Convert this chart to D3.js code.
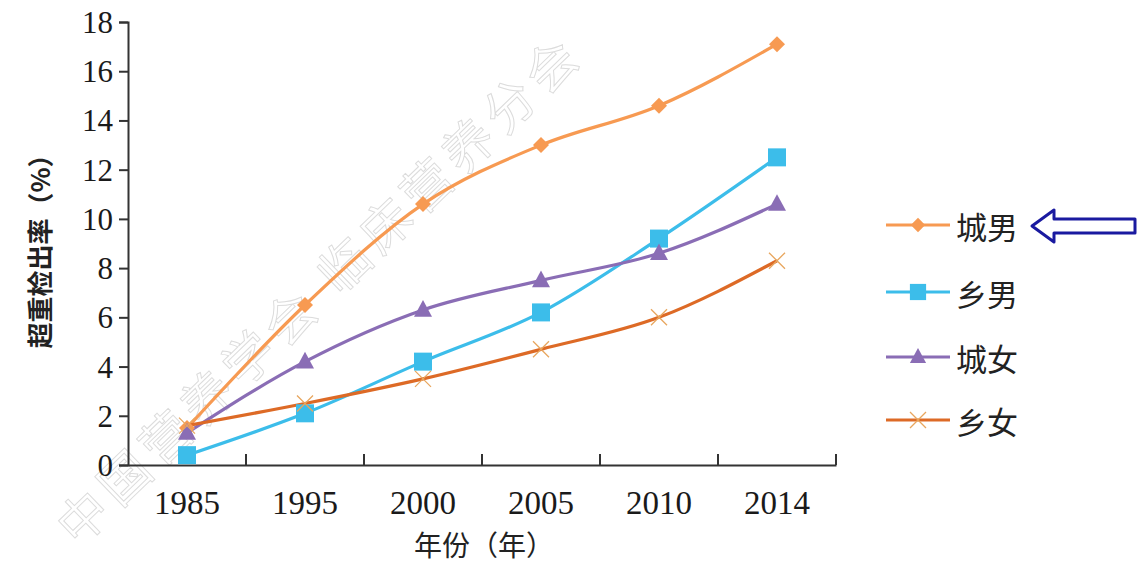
<!DOCTYPE html>
<html><head><meta charset="utf-8">
<script src="https://cdn.jsdelivr.net/npm/d3@7"></script>
<style>body{margin:0;background:#fff}svg{display:block}</style>
</head><body>
<svg id="c" width="1138" height="563"></svg>
<script>
const years = ["1985","1995","2000","2005","2010","2014"];
const cityMale = [1.5, 6.5, 10.6, 13.0, 14.6, 17.1];
const ruralMale = [0.4, 2.1, 4.2, 6.2, 9.2, 12.5];
const cityFemale = [1.3, 4.2, 6.3, 7.5, 8.6, 10.6];
const ruralFemale = [1.6, 2.5, 3.5, 4.7, 6.0, 8.3];
const seriesNames = ["城男","乡男","城女","乡女"];
const yTicks = [0,2,4,6,8,10,12,14,16,18];
const yTitle = "超重检出率（%）";
const xTitle = "年份（年）";
const watermark = "中国营养学会  临床营养分会";

const series = [
  {name: seriesNames[0], values: cityMale, color: "#F79A52", marker: "diamond"},
  {name: seriesNames[1], values: ruralMale, color: "#3CBDEA", marker: "square"},
  {name: seriesNames[2], values: cityFemale, color: "#8A6DB5", marker: "triangle"},
  {name: seriesNames[3], values: ruralFemale, color: "#DD6A26", marker: "cross"}
];

const svg = d3.select("#c");
const serif = "'Liberation Serif','DejaVu Serif',serif";
const cjk = "'Noto Sans CJK SC','Noto Sans CJK TC',sans-serif";

const x = d3.scaleBand().domain(years).range([128, 836]).padding(0);
const y = d3.scaleLinear().domain([0, 18]).range([465, 22]);

// watermark
svg.append("text")
  .attr("transform", "translate(78,548) rotate(-44)")
  .attr("font-family", cjk).attr("font-size", 50).attr("fill", "none")
  .attr("stroke", "#dcdcdc").attr("stroke-width", 1)
  .attr("textLength", 700).attr("lengthAdjust", "spacing")
  .text(watermark);

// y axis
const yAxis = svg.append("g").attr("transform", "translate(128,0)")
  .call(d3.axisLeft(y).tickValues(yTicks).tickSize(9).tickPadding(6).tickFormat(d3.format("d")));
yAxis.select(".domain").attr("stroke", "#333").attr("stroke-width", 2);
yAxis.selectAll(".tick line").attr("stroke", "#333").attr("stroke-width", 2);
yAxis.selectAll(".tick text").attr("font-family", serif).attr("font-size", 31).attr("fill", "#1a1a1a").attr("dy", "0.34em");

// x axis
const xAxis = svg.append("g").attr("transform", "translate(0,465)")
  .call(d3.axisBottom(x).tickSize(0).tickPadding(26));
xAxis.select(".domain").attr("stroke", "#333").attr("stroke-width", 2);
xAxis.selectAll(".tick text").attr("font-family", serif).attr("font-size", 33).attr("fill", "#1a1a1a");
// tick marks at band edges, pointing up
xAxis.selectAll(".edge").data(years.slice(1).concat(["end"])).enter().append("line")
  .attr("x1", d => d === "end" ? 836 : x(d)).attr("x2", d => d === "end" ? 836 : x(d))
  .attr("y1", 0).attr("y2", -11).attr("stroke", "#333").attr("stroke-width", 2);

// titles
svg.append("text")
  .attr("transform", "translate(38,245) rotate(-90)")
  .attr("text-anchor", "middle").attr("dominant-baseline", "central")
  .attr("font-family", cjk).attr("font-size", 26).attr("font-weight", "bold").attr("fill", "#222")
  .text(yTitle);
svg.append("text")
  .attr("x", 484).attr("y", 556).attr("text-anchor", "middle")
  .attr("font-family", cjk).attr("font-size", 28).attr("fill", "#222")
  .text(xTitle);

const cx = d => x(d) + x.bandwidth() / 2;
const line = d3.line().x((d, i) => cx(years[i])).y(d => y(d)).curve(d3.curveMonotoneX);

function drawMarker(g, type, color, px, py, s) {
  if (type === "diamond") {
    g.append("path").attr("d", `M${px},${py - s}L${px + s},${py}L${px},${py + s}L${px - s},${py}Z`).attr("fill", color);
  } else if (type === "square") {
    g.append("rect").attr("x", px - s).attr("y", py - s).attr("width", 2 * s).attr("height", 2 * s).attr("fill", color);
  } else if (type === "triangle") {
    g.append("path").attr("d", `M${px},${py - s * 1.1}L${px + s},${py + s * 0.75}L${px - s},${py + s * 0.75}Z`).attr("fill", color);
  } else {
    g.append("path").attr("d", `M${px - s},${py - s}L${px + s},${py + s}M${px - s},${py + s}L${px + s},${py - s}`)
      .attr("stroke", "#E8A65E").attr("stroke-width", 1.3).attr("fill", "none");
  }
}
const markerSize = {diamond: 8, square: 9, triangle: 9, cross: 8};

const plot = svg.append("g");
series.forEach(s => {
  plot.append("path").attr("d", line(s.values)).attr("fill", "none")
    .attr("stroke", s.color).attr("stroke-width", 3.2);
});
series.forEach(s => {
  const g = plot.append("g");
  s.values.forEach((v, i) => drawMarker(g, s.marker, s.color, cx(years[i]), y(v), markerSize[s.marker]));
});

// legend
const legRows = [225, 292, 357, 420];
const leg = svg.append("g");
series.forEach((s, i) => {
  const ly = legRows[i];
  leg.append("line").attr("x1", 886).attr("x2", 950).attr("y1", ly).attr("y2", ly)
    .attr("stroke", s.color).attr("stroke-width", 3.2);
  drawMarker(leg, s.marker, s.color, 918, ly, markerSize[s.marker] * (s.marker === "cross" ? 1 : 0.9));
  leg.append("text").attr("x", 956).attr("y", ly).attr("dominant-baseline", "central")
    .attr("font-family", cjk).attr("font-size", 31).attr("fill", "#222").text(s.name);
});

// arrow pointing at legend
svg.append("path")
  .attr("d", "M1032,226 L1054,210 L1054,219 L1135,219 L1135,233 L1054,233 L1054,242 Z")
  .attr("fill", "#fff").attr("stroke", "#1a1aa0").attr("stroke-width", 3).attr("stroke-linejoin", "round");
</script>
</body></html>
